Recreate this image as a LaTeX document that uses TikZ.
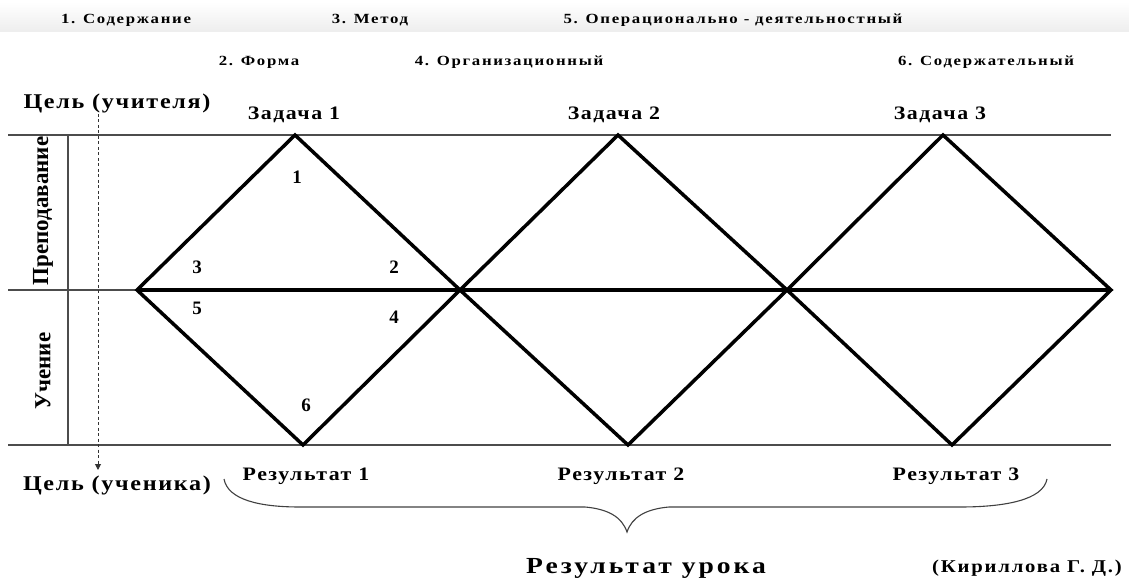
\documentclass[tikz,border=0pt]{standalone}
\usepackage{fontspec}
\setmainfont{Liberation Serif}
\newfontfamily\lsLeg[LetterSpace=12,FakeStretch=1.2]{Liberation Serif}
\newfontfamily\lsTask[LetterSpace=8,FakeStretch=1.15]{Liberation Serif}
\newfontfamily\lsGoal[LetterSpace=8,FakeStretch=1.15]{Liberation Serif}
\newfontfamily\lsBig[LetterSpace=13,FakeStretch=1.2]{Liberation Serif}
\newfontfamily\lsAuth[LetterSpace=10,FakeStretch=1.15]{Liberation Serif}
\usetikzlibrary{arrows.meta}
\tikzset{
  thinline/.style={draw=black!70, line width=1.1pt},
  thickline/.style={draw=black, line width=3.5pt, line join=miter},
  legend/.style={font=\lsLeg\bfseries\fontsize{14}{16}\selectfont, inner sep=0pt},
  task/.style={font=\lsTask\bfseries\fontsize{19}{21}\selectfont, inner sep=0pt},
  goal/.style={font=\lsGoal\bfseries\fontsize{21}{23}\selectfont, inner sep=0pt},
  big/.style={font=\lsBig\bfseries\fontsize{23}{25}\selectfont, inner sep=0pt},
  auth/.style={font=\lsAuth\bfseries\fontsize{18}{20}\selectfont, inner sep=0pt},
  num/.style={font=\bfseries\fontsize{19}{21}\selectfont, inner sep=0pt},
  side/.style={font=\bfseries\fontsize{23}{25}\selectfont, inner sep=0pt, rotate=90}
}
\begin{document}
\begin{tikzpicture}[x=1pt,y=-1pt]
\useasboundingbox (0,0) rectangle (1129,580);
\shade[top color=white, bottom color=black!7] (0,2) rectangle (1129,32);
% legend
\node[legend] (l1) at (126,20) {1. Содержание};
\node[legend] (l3) at (370,20) {3. Метод};
\node[legend] (l5) at (733,20) {5. Операционально - деятельностный};
\node[legend] (l2) at (259,62) {2. Форма};
\node[legend] (l4) at (509,62) {4. Организационный};
\node[legend] (l6) at (986,62) {6. Содержательный};
% horizontal grid
\coordinate (tl) at (8,135);
\coordinate (tr) at (1111,135);
\coordinate (ml) at (8,290);
\coordinate (bl) at (8,445);
\coordinate (br) at (1111,445);
\coordinate (vt) at (68,135);
\coordinate (vb) at (68,445);
\draw[thinline] (tl) -- (tr);
\draw[thinline] (bl) -- (br);
\draw[thinline] (vt) -- (vb);
% diamond points
\coordinate (p0) at (137,290);
\coordinate (t1) at (295,135);
\coordinate (b1) at (303,445);
\coordinate (p1) at (460,290);
\coordinate (t2) at (618,135);
\coordinate (b2) at (628,445);
\coordinate (p2) at (787,290);
\coordinate (t3) at (943,135);
\coordinate (b3) at (952,445);
\coordinate (p3) at (1111,290);
\draw[thinline] (ml) -- (p0);
\draw[thickline] (p0) -- (p3);
\draw[thickline] (p0) -- (t1) -- (p1) -- (t2) -- (p2) -- (t3) -- (p3) -- (b3) -- (p2) -- (b2) -- (p1) -- (b1) -- cycle;
% side labels
\node[side] (prep) at (43,211) {Преподавание};
\node[side] (uch) at (43,371) {Учение};
% goals
\node[goal] (gt) at (117,103) {Цель (учителя)};
\node[goal] (gs) at (117,485) {Цель (ученика)};
\draw[black!80, line width=1pt, dash pattern=on 3pt off 2.5pt, -{Triangle[width=6pt,length=6pt]}] (98,114) -- (98,470);
% tasks
\node[task] (z1) at (294,115) {Задача 1};
\node[task] (z2) at (614,115) {Задача 2};
\node[task] (z3) at (940,115) {Задача 3};
\node[task] (r1) at (306,476) {Результат 1};
\node[task] (r2) at (621,476) {Результат 2};
\node[task] (r3) at (956,476) {Результат 3};
% numbers
\node[num] (n1) at (297,177) {1};
\node[num] (n3) at (197,267) {3};
\node[num] (n2) at (394,267) {2};
\node[num] (n5) at (197,308) {5};
\node[num] (n4) at (394,317) {4};
\node[num] (n6) at (306,405) {6};
% brace
\coordinate (bra) at (224,479);
\coordinate (brb) at (1047,479);
\coordinate (tip) at (627,532);
\draw[black!75, line width=1.1pt] (bra) .. controls (228,500) and (260,507) .. (300,507)
  -- (585,507) .. controls (608,509) and (622,517) .. (tip)
  .. controls (632,517) and (646,509) .. (669,507)
  -- (960,507) .. controls (1005,507) and (1043,500) .. (brb);
\node[big] (ru) at (646,568) {Результат урока};
\node[auth] (kir) at (1027,568) {(Кириллова Г. Д.)};
\end{tikzpicture}
\end{document}
